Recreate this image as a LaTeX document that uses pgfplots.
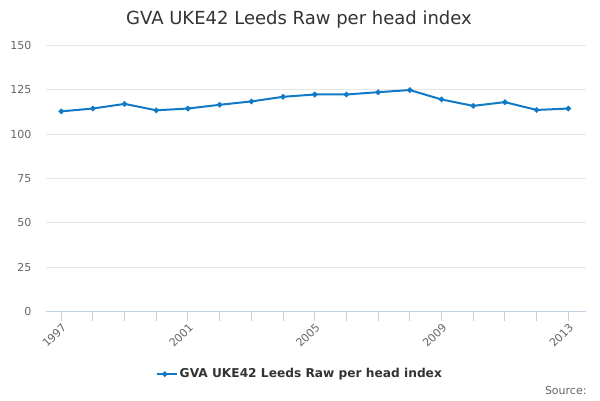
\documentclass[border=0pt]{standalone}
\usepackage{pgfplots}
\pgfplotsset{compat=1.18}
\usepackage{fontspec}
\setmainfont{DejaVu Sans}
\definecolor{linec}{RGB}{17,122,198}
\definecolor{axc}{RGB}{192,208,224}
\definecolor{gridc}{RGB}{230,230,230}
\definecolor{txt}{RGB}{51,51,51}
\definecolor{lbl}{RGB}{102,102,102}
\begin{document}
\begin{tikzpicture}[x=1bp,y=1bp]
\path[use as bounding box,fill=white] (0,0) rectangle (600,400);
\node[anchor=center,text=txt,font=\fontsize{18bp}{22bp}\selectfont] at (299,380) {GVA UKE42 Leeds Raw per head index};
\node[anchor=east,text=lbl,font=\fontsize{11bp}{13bp}\selectfont] at (590,10) {Source:};
\begin{axis}[
  at={(46bp,88.3bp)}, anchor=south west,
  scale only axis, width=540bp, height=266.4bp,
  xmin=1996.52, xmax=2013.56, ymin=0, ymax=150,
  ytick={0,25,...,150},
  xtick={1997,2001,2005,2009,2013},
  minor xtick={1998,1999,2000,2002,2003,2004,2006,2007,2008,2010,2011,2012},
  xticklabel style={rotate=45,anchor=north east,text=lbl,font=\fontsize{11bp}{13bp}\selectfont,inner sep=1bp},
  yticklabel style={text=lbl,font=\fontsize{11bp}{13bp}\selectfont,xshift=-2bp},
  xticklabel={\pgfmathprintnumber[1000 sep=]{\tick}},
  /pgf/number format/assume math mode=true,
  axis x line*=bottom, axis y line*=left,
  x axis line style={draw=axc,line width=1bp,-},
  y axis line style={draw=none},
  tick align=outside,
  xtick pos=bottom, ytick pos=left,
  major tick length=9bp, minor tick length=9bp,
  xtick style={draw=axc,line width=1bp},
  minor x tick style={draw=axc,line width=1bp},
  ytick style={draw=none},
  ymajorgrids, grid style={draw=gridc,line width=1bp},
  clip=false,
  legend style={at={(0.47,-0.234)},anchor=center,draw=none,fill=none,
    font=\bfseries\fontsize{12.2bp}{15bp}\selectfont,text=txt,
    legend cell align=left},
  legend image code/.code={\path (0bp,0bp) -- (20bp,0bp); \draw[linec,line width=2bp] (0bp,0bp) -- (16bp,0bp); \fill[linec] (8bp,0bp) circle (1.6bp);},
]
\addplot[linec,line width=2bp,mark=*,mark size=1.6bp,mark options={fill=linec,draw=linec}] coordinates {
(1997,112.8) (1998,114.4) (1999,117.0) (2000,113.4) (2001,114.4) (2002,116.5)
(2003,118.4) (2004,121.0) (2005,122.3) (2006,122.3) (2007,123.6) (2008,124.8)
(2009,119.5) (2010,115.9) (2011,118.0) (2012,113.6) (2013,114.4)};
\addlegendentry{GVA UKE42 Leeds Raw per head index}
\end{axis}
\end{tikzpicture}
\end{document}
